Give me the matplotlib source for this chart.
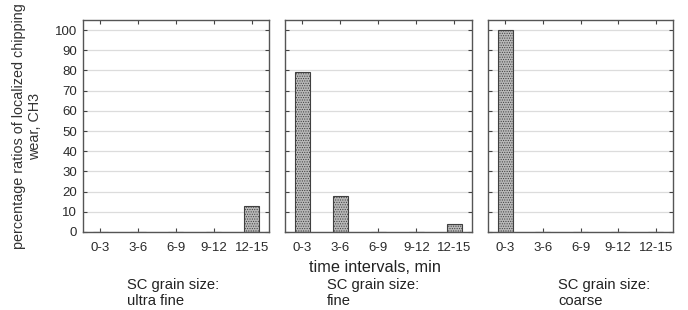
import matplotlib.pyplot as plt
import numpy as np

plt.rcParams.update({
    "font.family": "Liberation Sans",
    "font.size": 9.5,
    "hatch.linewidth": 0.5,
    "hatch.color": "#505050",
})

# data
intervals = ['0-3', '3-6', '6-9', '9-12', '12-15']
ultra_fine = [0, 0, 0, 0, 13]
fine = [79, 18, 0, 0, 4]
coarse = [100, 0, 0, 0, 0]
panel_labels = ['SC grain size:\nultra fine', 'SC grain size:\nfine', 'SC grain size:\ncoarse']

W, H = 688, 310
fig = plt.figure(figsize=(W / 100, H / 100), dpi=100)

# axes boxes in pixels (left, right)
boxes = [(82.7, 269.0), (285.0, 471.7), (488.0, 673.0)]
top_px, bot_px = 20, 232

x = np.arange(len(intervals))
axes = []
for i, (vals, (l, r)) in enumerate(zip([ultra_fine, fine, coarse], boxes)):
    ax = fig.add_axes([l / W, (H - bot_px) / H, (r - l) / W, (bot_px - top_px) / H])
    axes.append(ax)
    ax.set_axisbelow(True)
    ax.yaxis.grid(True, color='#dcdcdc', linewidth=0.9)
    ax.bar(x, vals, width=0.4, facecolor='#b8b8b8', edgecolor='#404040',
           linewidth=0.8, hatch='.......')
    ax.set_xlim(-0.46, 4.46)
    ax.set_ylim(0, 105)
    ax.set_yticks(np.arange(0, 101, 10))
    ax.set_xticks(x)
    ax.set_xticklabels(intervals, color='#2a2a2a')
    ax.xaxis.set_ticks_position('both')
    ax.yaxis.set_ticks_position('both')
    ax.tick_params(axis='both', direction='in', length=3, width=0.8,
                   color='#444444', labelsize=9.5, pad=7, labelcolor='#2a2a2a')
    for s in ax.spines.values():
        s.set_color('#555555')
        s.set_linewidth(1.0)
    if i > 0:
        ax.set_yticklabels([])
    else:
        ax.tick_params(axis='y', pad=4)

axes[0].set_ylabel('percentage ratios of localized chipping\nwear, CH3',
                   fontsize=10.4, color='#333333', labelpad=9)

fig.text(375 / W, 1 - 267 / H, 'time intervals, min', ha='center', va='center',
         fontsize=11.7, color='#222222')

label_x = [127, 327, 558]
for lx, txt in zip(label_x, panel_labels):
    fig.text(lx / W, 1 - 293 / H, txt, ha='left', va='center', fontsize=10.6,
             color='#222222', linespacing=1.25)

plt.savefig('out.png', dpi=100)
